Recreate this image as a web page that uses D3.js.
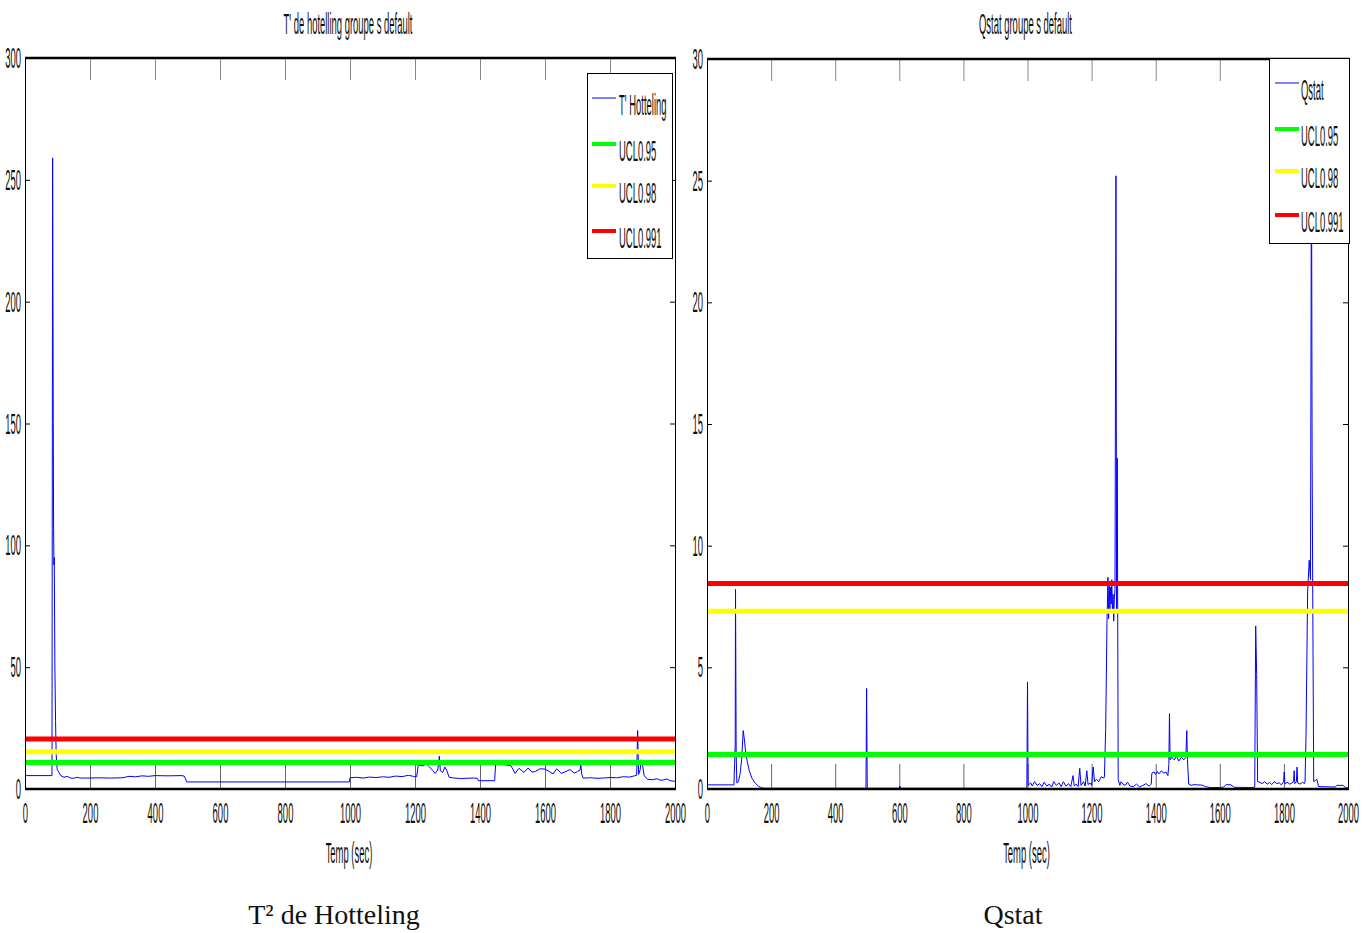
<!DOCTYPE html>
<html>
<head>
<meta charset="utf-8">
<script src="https://cdn.jsdelivr.net/npm/d3@7"></script>
<style>
body { margin: 0; background: #fff; }
svg { display: block; }
.cond { font-family: "Liberation Sans", Arial, sans-serif; font-size: 30px; fill: #111; }
.caption { font-family: "Liberation Serif", "Times New Roman", serif; font-size: 28px; fill: #111; }
</style>
</head>
<body>
<div id="mainDiv"></div>
<script>
'use strict';

// T2 de Hotelling : temps (sec) et valeurs
var t2Time = [0, 83, 85, 87, 88, 89, 90, 92, 94, 96, 99, 104, 110, 120, 130, 140, 150, 160, 170, 200,
    230, 260, 300, 320, 340, 360, 380, 400, 440, 480, 490, 498, 600, 800, 998, 1000, 1020, 1040, 1060, 1080,
    1100, 1120, 1140, 1160, 1180, 1195, 1205, 1210, 1225, 1235, 1245, 1255, 1262, 1270, 1275, 1278, 1285, 1292, 1298, 1305,
    1320, 1340, 1360, 1380, 1392, 1395, 1445, 1448, 1470, 1495, 1508, 1520, 1535, 1548, 1560, 1570, 1585, 1600, 1615, 1625,
    1636, 1650, 1665, 1677, 1690, 1700, 1708, 1710, 1713, 1717, 1740, 1760, 1780, 1800, 1820, 1840, 1860, 1875, 1882, 1885,
    1888, 1893, 1896, 1900, 1905, 1915, 1930, 1945, 1955, 1965, 1975, 1985, 1995, 2000];
var t2Value = [5.5, 5.5, 259, 150, 107, 92, 95, 50, 28, 14, 8, 6.9, 5.5, 4.8, 5.2, 4.5, 4.4, 4.8, 4.5, 4.5,
    4.6, 4.5, 4.6, 5.2, 5.0, 5.4, 5.2, 5.5, 5.4, 5.5, 5.3, 2.9, 2.9, 2.9, 2.9, 4.6, 4.8, 4.5, 4.9, 4.7,
    5.0, 4.8, 5.3, 5.1, 5.6, 5.2, 5.0, 9.8, 9.5, 10.3, 9.0, 7.5, 6.4, 7.8, 13.5, 7.5, 6.8, 9.0, 7.5, 4.8,
    4.5, 4.3, 4.4, 4.5, 4.4, 3.4, 3.4, 10.1, 10.0, 9.6, 6.4, 8.5, 6.8, 8.6, 6.9, 7.2, 8.3, 8.2, 7.0, 6.2,
    8.3, 6.4, 7.2, 8.0, 6.5, 7.2, 7.8, 10.5, 6.0, 4.5, 4.6, 4.4, 4.5, 4.7, 4.6, 5.0, 4.9, 5.4, 5.6, 24,
    6.0, 8.0, 12, 10, 5.5, 4.0, 3.8, 4.2, 3.6, 3.7, 4.1, 3.4, 3.2, 3.2];
var t2Ucl = [10.9, 15.3, 20.5];

// Qstat : temps (sec) et valeurs
var qTime = [0, 84, 86, 88, 89, 91, 93, 98, 103, 108, 113, 116, 120, 126, 132, 140, 150, 160, 170, 180,
    496, 498, 500, 600, 602, 604, 998, 1000, 1002, 1010, 1015, 1022, 1030, 1038, 1045, 1052, 1060, 1068, 1075, 1082,
    1090, 1098, 1105, 1112, 1120, 1128, 1135, 1142, 1146, 1152, 1158, 1163, 1167, 1175, 1180, 1185, 1189, 1195, 1200, 1205,
    1209, 1215, 1222, 1230, 1238, 1240, 1244, 1248, 1251, 1253, 1255, 1257, 1259, 1261, 1263, 1265, 1267, 1269, 1271, 1273,
    1276, 1278, 1280, 1283, 1288, 1292, 1298, 1305, 1312, 1320, 1330, 1340, 1350, 1360, 1370, 1380, 1386, 1388, 1395, 1400,
    1405, 1410, 1418, 1425, 1432, 1438, 1441, 1443, 1445, 1450, 1458, 1465, 1472, 1480, 1488, 1494, 1497, 1499, 1503, 1510,
    1520, 1530, 1545, 1555, 1570, 1600, 1612, 1620, 1635, 1645, 1700, 1709, 1712, 1715, 1718, 1725, 1732, 1740, 1748, 1755,
    1762, 1770, 1778, 1785, 1792, 1799, 1801, 1803, 1810, 1818, 1825, 1830, 1832, 1834, 1839, 1841, 1843, 1850, 1858, 1864,
    1866, 1869, 1874, 1879, 1883, 1886, 1888, 1890, 1893, 1898, 1903, 1908, 1960, 1965, 1985, 1992, 2000];
var qValue = [0.17, 0.17, 1.0, 1.8, 8.2, 1.5, 0.25, 0.3, 0.6, 1.2, 2.4, 2.1, 1.6, 1.1, 0.75, 0.45, 0.25, 0.12, 0.05, 0.03,
    0.03, 4.13, 0.03, 0.03, 0.12, 0.03, 0.03, 4.4, 0.15, 0.25, 0.12, 0.3, 0.15, 0.22, 0.1, 0.28, 0.12, 0.2, 0.08, 0.3,
    0.15, 0.25, 0.1, 0.3, 0.12, 0.22, 0.1, 0.55, 0.12, 0.2, 0.1, 0.85, 0.15, 0.3, 0.12, 0.75, 0.18, 0.25, 0.15, 0.9,
    0.3, 0.4, 0.3, 0.5, 0.45, 0.5, 2.5, 6.8, 8.7, 7.0, 8.5, 7.4, 8.3, 7.6, 8.6, 7.3, 8.0, 6.9, 7.8, 8.2,
    25.2, 7.3, 13.6, 0.4, 0.15, 0.3, 0.2, 0.15, 0.28, 0.12, 0.1, 0.2, 0.08, 0.15, 0.22, 0.12, 0.2, 0.65, 0.7, 0.6,
    0.72, 0.62, 0.75, 0.65, 0.7, 0.55, 1.0, 3.1, 1.2, 1.3, 1.2, 1.35, 1.15, 1.3, 1.2, 1.3, 2.4, 1.2, 0.2, 0.15,
    0.18, 0.17, 0.16, 0.1, 0.06, 0.06, 0.08, 0.18, 0.17, 0.07, 0.06, 0.07, 6.7, 4.7, 0.3, 0.28, 0.22, 0.3, 0.2, 0.27,
    0.18, 0.3, 0.22, 0.26, 0.17, 0.3, 0.7, 0.2, 0.28, 0.2, 0.25, 0.3, 0.75, 0.22, 0.3, 0.9, 0.25, 0.2, 0.28, 0.22,
    0.3, 2.2, 8.1, 9.4, 8.6, 27, 13.8, 7.9, 0.3, 0.35, 0.4, 0.1, 0.08, 0.15, 0.15, 0.05, 0.05];
var qUcl = [1.42, 7.3, 8.45];

var uclNames = ['UCL0.95', 'UCL0.98', 'UCL0.991'];
var uclColors = ['#00ff00', '#ffff00', '#ff0000'];

var xTicks = [0, 200, 400, 600, 800, 1000, 1200, 1400, 1600, 1800, 2000];
var t2Ticks = [0, 50, 100, 150, 200, 250, 300];
var qTicks = [0, 5, 10, 15, 20, 25, 30];

var chart = {};
chart.w = 1372;
chart.h = 933;
chart.sx = 0.315;   // texte comprimé horizontalement

// geometrie des deux panneaux
chart.panels = [
    {title: "T' de hotelling groupe s default", caption: 'T\u00b2 de Hotteling', serie: "T' Hotteling",
     time: t2Time, value: t2Value, ucl: t2Ucl, yTicks: t2Ticks, yMax: 300,
     left: 25, right: 675, top: 58, bottom: 789, capX: 334,
     legend: {x: 587, y: 73, w: 85, h: 185, rows: [98, 144, 186, 231], lx: 592, tx: 619}},
    {title: 'Qstat groupe s default', caption: 'Qstat', serie: 'Qstat',
     time: qTime, value: qValue, ucl: qUcl, yTicks: qTicks, yMax: 30,
     left: 707, right: 1348, top: 59, bottom: 789, capX: 1013,
     legend: {x: 1269, y: 58, w: 80, h: 185, rows: [83, 129, 171, 215], lx: 1275, tx: 1301}}
];

chart.label = function(g, x, y, txt, anchor)
{
    return g.append('text')
        .attr('class', 'cond')
        .attr('text-anchor', anchor || 'middle')
        .attr('transform', 'translate(' + x + ',' + y + ') scale(' + chart.sx + ',1)')
        .text(txt);
}

chart.drawPanel = function(svg, p)
{
    var x = d3.scaleLinear().domain([0, 2000]).range([p.left, p.right]);
    var y = d3.scaleLinear().domain([0, p.yMax]).range([p.bottom, p.top]);
    var g = svg.append('g');

    // ticks bas et haut
    var xb = g.append('g')
        .attr('transform', 'translate(0,' + p.bottom + ')')
        .call(d3.axisBottom(x).tickValues(xTicks).tickFormat(d3.format('d'))
            .tickSizeInner(-25).tickSizeOuter(0).tickPadding(13));
    var xt = g.append('g')
        .attr('transform', 'translate(0,' + p.top + ')')
        .call(d3.axisTop(x).tickValues(xTicks).tickSizeInner(-22).tickSizeOuter(0).tickFormat(''));
    var yl = g.append('g')
        .attr('transform', 'translate(' + p.left + ',0)')
        .call(d3.axisLeft(y).tickValues(p.yTicks).tickFormat(d3.format('d'))
            .tickSizeInner(-5).tickSizeOuter(0).tickPadding(4));
    var yr = g.append('g')
        .attr('transform', 'translate(' + p.right + ',0)')
        .call(d3.axisRight(y).tickValues(p.yTicks).tickSizeInner(-5).tickSizeOuter(0).tickFormat(''));

    [xb, xt, yl, yr].forEach(function(a) { a.select('.domain').remove(); });
    xb.selectAll('line').attr('stroke', '#666');
    xt.selectAll('line').attr('stroke', '#888');
    yl.selectAll('line').attr('stroke', '#000');
    yr.selectAll('line').attr('stroke', '#000');

    xb.selectAll('text')
        .attr('class', 'cond')
        .attr('transform', 'scale(' + chart.sx + ',1)');
    yl.selectAll('text')
        .attr('class', 'cond')
        .attr('x', 0)
        .attr('transform', 'translate(-4,0) scale(' + chart.sx + ',1)');

    // courbe
    var line = d3.line()
        .x(function(d) { return x(d[0]); })
        .y(function(d) { return y(d[1]); });

    g.append('path')
        .datum(d3.zip(p.time, p.value))
        .attr('d', line)
        .attr('fill', 'none')
        .attr('stroke', '#0000ff')
        .attr('stroke-width', 1);

    // limites de controle
    g.selectAll('line.ucl')
        .data(p.ucl)
        .enter()
        .append('line')
        .attr('class', 'ucl')
        .attr('x1', x(0))
        .attr('x2', x(2000))
        .attr('y1', function(d) { return y(d); })
        .attr('y2', function(d) { return y(d); })
        .attr('stroke', function(d, i) { return uclColors[i]; })
        .attr('stroke-width', 5);

    // cadre
    g.append('line').attr('x1', p.left + 0.5).attr('x2', p.left + 0.5).attr('y1', p.top).attr('y2', p.bottom).attr('stroke', '#000');
    g.append('line').attr('x1', p.right + 0.5).attr('x2', p.right + 0.5).attr('y1', p.top).attr('y2', p.bottom).attr('stroke', '#000');
    g.append('line').attr('x1', p.left).attr('x2', p.right + 1).attr('y1', p.top).attr('y2', p.top).attr('stroke', '#000').attr('stroke-width', 2.5);
    g.append('line').attr('x1', p.left).attr('x2', p.right + 1).attr('y1', p.bottom).attr('y2', p.bottom).attr('stroke', '#000').attr('stroke-width', 2.5);

    // legende
    var lg = p.legend;
    g.append('rect')
        .attr('x', lg.x + 0.5).attr('y', lg.y + 0.5)
        .attr('width', lg.w).attr('height', lg.h)
        .attr('fill', '#fff').attr('stroke', '#000');

    var names = [p.serie].concat(uclNames);
    var colors = ['#0000ff'].concat(uclColors);
    names.forEach(function(n, i) {
        g.append('line')
            .attr('x1', lg.lx).attr('x2', lg.lx + 24)
            .attr('y1', lg.rows[i]).attr('y2', lg.rows[i])
            .attr('stroke', colors[i])
            .attr('stroke-width', i == 0 ? 1 : 4);
        chart.label(g, lg.tx, lg.rows[i] + 17, n, 'start');
    });

    // titres
    chart.label(g, (p.left + p.right) / 2 - 2, 34, p.title);
    chart.label(g, (p.left + p.right) / 2 - 1, 863, 'Temp (sec)');

    g.append('text')
        .attr('class', 'caption')
        .attr('text-anchor', 'middle')
        .attr('x', p.capX)
        .attr('y', 924)
        .text(p.caption);
}

chart.run = function()
{
    var svg = d3.select('#mainDiv').append('svg')
        .attr('width', chart.w)
        .attr('height', chart.h);

    chart.panels.forEach(function(p) { chart.drawPanel(svg, p); });
}

window.onload = chart.run;
</script>
</body>
</html>
